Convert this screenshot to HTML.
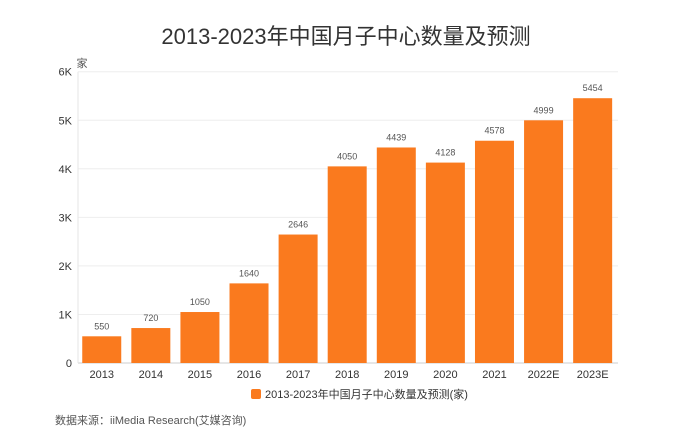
<!DOCTYPE html>
<html><head><meta charset="utf-8"><style>
body{margin:0;background:#fff;width:693px;height:437px;overflow:hidden;font-family:"Liberation Sans","Noto Sans CJK SC",sans-serif}
</style></head><body>
<svg width="693" height="437" style="position:absolute;left:0;top:0">
<text x="346" y="44" text-anchor="middle" font-size="22" fill="#333" font-family="Liberation Sans, Noto Sans CJK SC, sans-serif">2013-2023年中国月子中心数量及预测</text>
<text x="82" y="67" text-anchor="middle" font-size="11" fill="#555" font-family="Liberation Sans, Noto Sans CJK SC, sans-serif">家</text>
<g id="grid"></g><g id="bars"></g><g id="labels"></g>
<rect x="251" y="389" width="10" height="10" rx="2" fill="#FA7A1E"/>
<text x="265" y="398" font-size="11" fill="#333" font-family="Liberation Sans, Noto Sans CJK SC, sans-serif">2013-2023年中国月子中心数量及预测(家)</text>
<text x="55" y="424" font-size="11" fill="#555" font-family="Liberation Sans, Noto Sans CJK SC, sans-serif">数据来源：iiMedia Research(艾媒咨询)</text>
</svg>
<script>
const categories=["2013","2014","2015","2016","2017","2018","2019","2020","2021","2022E","2023E"];
const values=[550,720,1050,1640,2646,4050,4439,4128,4578,4999,5454];
const yTicks=[0,1000,2000,3000,4000,5000,6000];
const yTickLabels=["0","1K","2K","3K","4K","5K","6K"];
const NS="http://www.w3.org/2000/svg";
const x0=78,x1=618,y0=363,yTop=71.7,yMax=6000;
const slot=(x1-x0)/categories.length,bw=39;
const ys=v=>y0-(v/yMax)*(y0-yTop);
const xc=i=>x0+slot*(i+0.5)-0.8;
function mk(t,a,p){const e=document.createElementNS(NS,t);for(const k in a)e.setAttribute(k,a[k]);p.appendChild(e);return e;}
const grid=document.getElementById('grid'),bars=document.getElementById('bars'),labels=document.getElementById('labels');
const ff="Liberation Sans, Noto Sans CJK SC, sans-serif";
yTicks.forEach((v,i)=>{
 const l=mk('line',{x1:x0,x2:x1,y1:ys(v),y2:ys(v),stroke:i==0?'#ccc':'#eee','stroke-width':1},grid);
 
 
 const t=mk('text',{x:x0-6,y:ys(v)+4,'text-anchor':'end','font-size':11,fill:'#333','font-family':ff},grid);
 t.textContent=yTickLabels[i];
 
 
});
const ax=mk('line',{x1:x0,x2:x0,y1:yTop,y2:y0,stroke:'#e6e6e6'},grid);


categories.forEach((c,i)=>{
 const r=mk('rect',{x:xc(i)-bw/2,y:ys(values[i]),width:bw,height:y0-ys(values[i]),fill:'#FA7A1E'},bars);
 
 
 const v=mk('text',{x:xc(i),y:ys(values[i])-7,'text-anchor':'middle','font-size':9,fill:'#555','font-family':ff},labels);
 v.textContent=values[i];
 
 
 const t=mk('text',{x:xc(i),y:y0+15,'text-anchor':'middle','font-size':11,fill:'#333','font-family':ff},labels);
 t.textContent=c;
 
 
});
</script>
</body></html>
